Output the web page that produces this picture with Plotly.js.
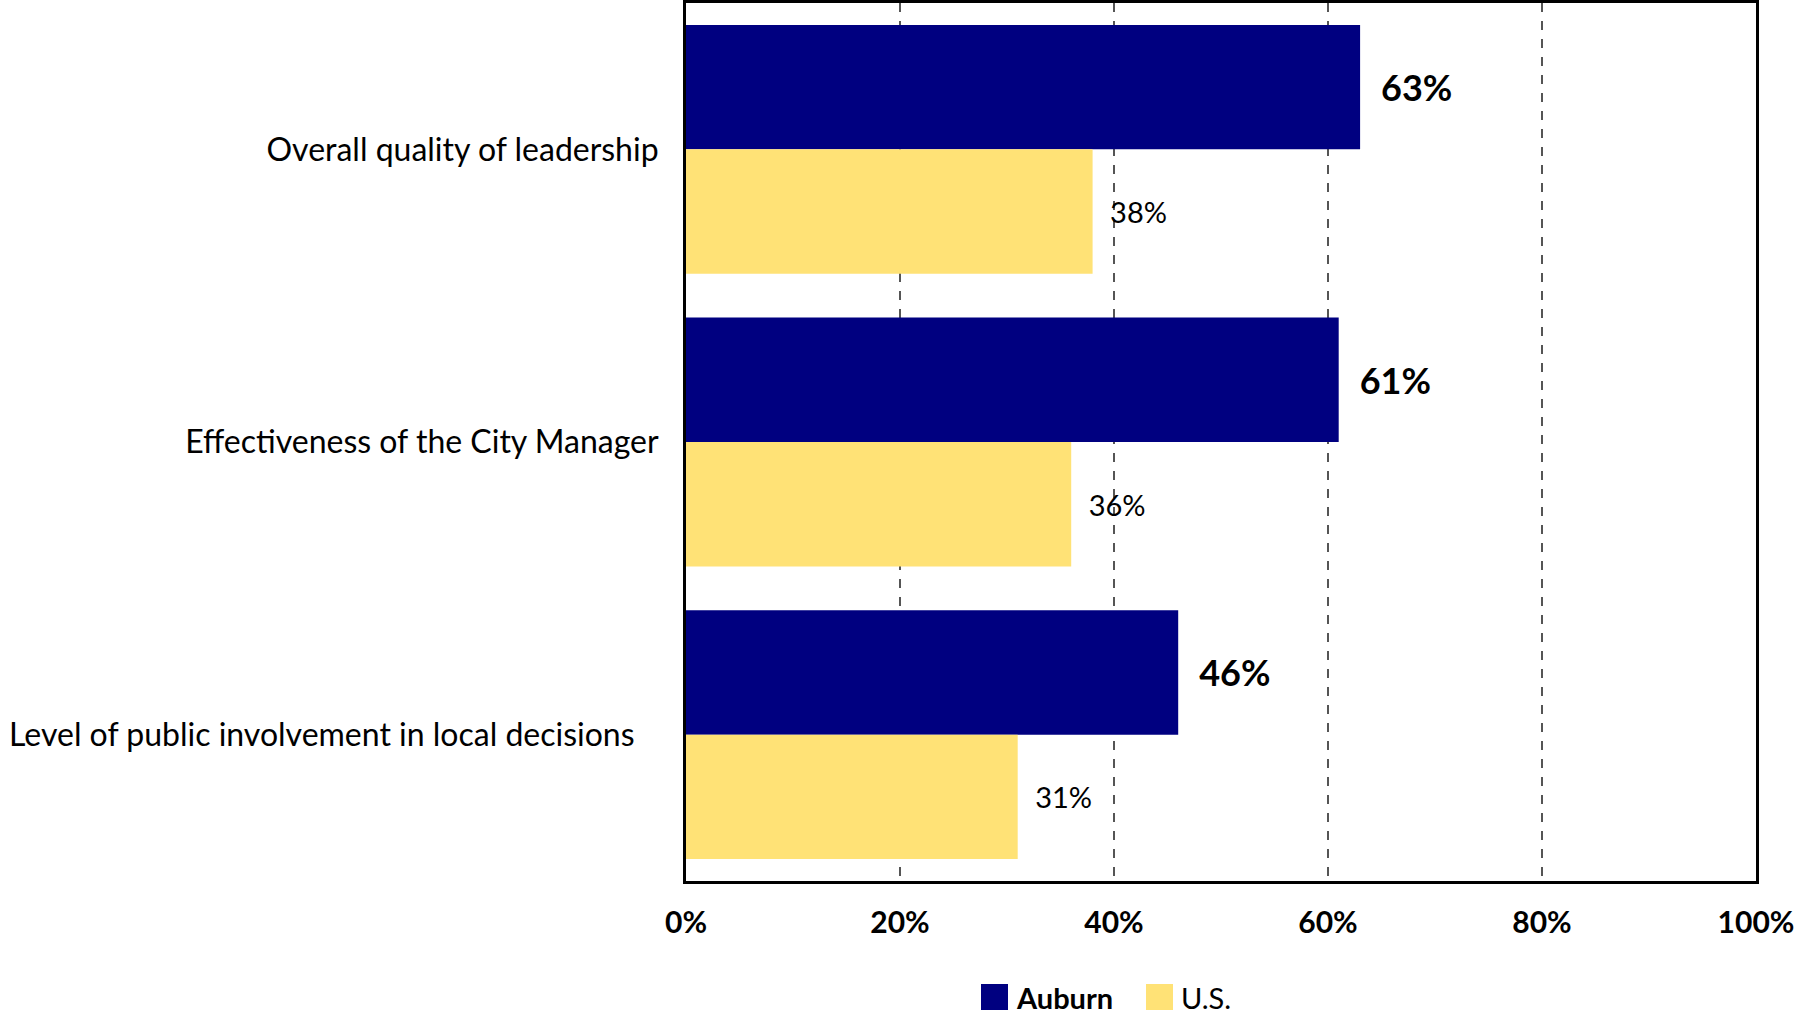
<!DOCTYPE html>
<html>
<head>
<meta charset="utf-8">
<script src="https://cdn.plot.ly/plotly-3.0.1.min.js"></script>
<style>
html,body{margin:0;padding:0;background:#fff;}
#chart{width:1797px;height:1016px;}
</style>
</head>
<body>
<div id="chart"></div>
<script>
// ---- data ----
var categories = [
  "Overall quality of leadership",
  "Effectiveness of the City Manager",
  "Level of public involvement in local decisions\u2003"
];
var auburnValues = [63, 61, 46];
var usValues = [38, 36, 31];
var seriesNames = ["Auburn", "U.S."];
var seriesColors = ["#000080", "#FFE276"];
var xTickVals = [0, 20, 40, 60, 80, 100];
var xTickText = ["0%", "20%", "40%", "60%", "80%", "100%"];

var FONT = "Lato, 'Open Sans', sans-serif";

var traces = [
  {
    type: "bar", orientation: "h", name: seriesNames[0],
    y: categories, x: auburnValues,
    marker: {color: seriesColors[0], line: {width: 0}},
    texttemplate: "\u2002%{x}%", textposition: "outside", cliponaxis: false,
    textfont: {family: FONT, size: 36, color: "#000", weight: "bold"},
    hoverinfo: "none"
  },
  {
    type: "bar", orientation: "h", name: seriesNames[1],
    y: categories, x: usValues,
    marker: {color: seriesColors[1], line: {width: 0}},
    texttemplate: "\u2002%{x}%", textposition: "outside", cliponaxis: false,
    textfont: {family: FONT, size: 29, color: "#000"},
    hoverinfo: "none"
  }
];

// custom legend (large square swatches)
var L = 686, R = 1756, T = 3, B = 881;
function px2x(p){ return (p - L) / (R - L); }
function py2y(p){ return (B - p) / (B - T); }
var legendX = [981, 1146];
var shapes = [], annotations = [];
for (var i = 0; i < seriesNames.length; i++) {
  shapes.push({
    type: "rect", xref: "paper", yref: "paper",
    x0: px2x(legendX[i]), x1: px2x(legendX[i] + 27),
    y0: py2y(1010), y1: py2y(984),
    fillcolor: seriesColors[i], line: {width: 0}
  });
  annotations.push({
    xref: "paper", yref: "paper", x: px2x(legendX[i] + 33), y: py2y(997),
    xanchor: "left", yanchor: "middle", showarrow: false,
    text: i === 0 ? "<b>" + seriesNames[i] + "</b>" : seriesNames[i],
    font: {family: FONT, size: 29, color: "#000"}
  });
}

var layout = {
  width: 1797, height: 1016,
  margin: {l: L, r: 1797 - R, t: T, b: 1016 - B, pad: 0},
  paper_bgcolor: "#fff", plot_bgcolor: "#fff",
  barmode: "group", bargap: 0.15, bargroupgap: 0,
  showlegend: false,
  font: {family: FONT, color: "#000"},
  xaxis: {
    range: [0, 100], tickvals: xTickVals, ticktext: xTickText,
    showgrid: true, gridcolor: "#555", griddash: "dash", gridwidth: 1.3,
    zeroline: false, showline: true, mirror: true, linecolor: "#000", linewidth: 3,
    ticks: "", ticklabelstandoff: 13,
    tickfont: {family: FONT, size: 30, color: "#000", weight: "bold"},
    fixedrange: true
  },
  yaxis: {
    autorange: "reversed", showgrid: false, zeroline: false,
    showline: true, mirror: true, linecolor: "#000", linewidth: 3,
    ticks: "", ticklabelstandoff: 18,
    tickfont: {family: FONT, size: 32, color: "#000"},
    fixedrange: true
  },
  shapes: shapes,
  annotations: annotations
};

Plotly.newPlot("chart", traces, layout, {displayModeBar: false, staticPlot: true});
</script>
</body>
</html>
